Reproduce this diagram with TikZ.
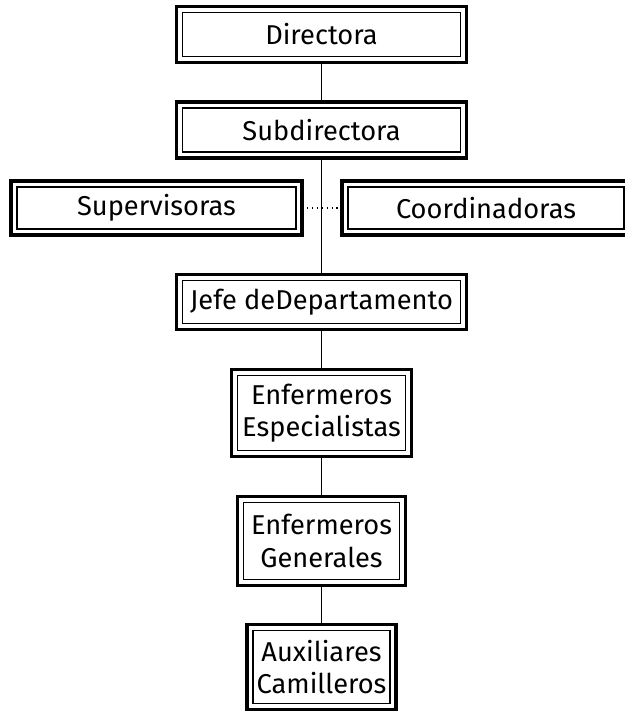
\documentclass[tikz,border=0pt]{standalone}
\usepackage{fontspec}
\setmainfont{Fira Sans}

\begin{document}
\begin{tikzpicture}[box/.style={draw, line width=2.2pt, outer sep=0pt, inner sep=0pt, align=center, font=\fontsize{15.5}{18.5}\selectfont},
  link/.style={-, line width=0.8pt}]
%%\draw[help lines] (0,0) grid (12,-14);
\useasboundingbox (0,0) rectangle (12.5,-14.28);
\node [box, minimum width=5.8cm, minimum height=1.12cm] (dir) at (6.43,-0.69) {Directora};
\node [box, minimum width=5.8cm, minimum height=1.12cm] (sub) at (6.43,-2.6) {Subdirectora};
\node [box, minimum width=5.82cm, minimum height=1.08cm] (sup) at (3.13,-4.16) {Supervisoras};
\node [box, minimum width=5.76cm, minimum height=1.08cm] (coord) at (9.72,-4.16) {Coordinadoras};
\node [box, minimum width=5.8cm, minimum height=1.1cm] (jefe) at (6.43,-6.04) {Jefe deDepartamento};
\node [box, minimum width=3.6cm, minimum height=1.74cm] (esp) at (6.43,-8.26) {Enfermeros\\Especialistas};
\node [box, minimum width=3.36cm, minimum height=1.78cm] (gen) at (6.43,-10.82) {Enfermeros\\Generales};
\node [box, minimum width=2.98cm, minimum height=1.7cm] (aux) at (6.43,-13.34) {Auxiliares\\Camilleros};
\foreach \n in {dir,sub,sup,coord,jefe,esp,gen,aux}
  \draw [line width=0.6pt] ([shift={(0.12,-0.12)}]\n.north west) rectangle ([shift={(-0.12,0.12)}]\n.south east);
\draw [link] (dir) -- (sub);
\draw [link] (sub) -- (jefe);
\draw [link, dotted] (sup) -- (coord);
\draw [link] (jefe) -- (esp);
\draw [link] (esp) -- (gen);
\draw [link] (gen) -- (aux);
\end{tikzpicture}
\end{document}
